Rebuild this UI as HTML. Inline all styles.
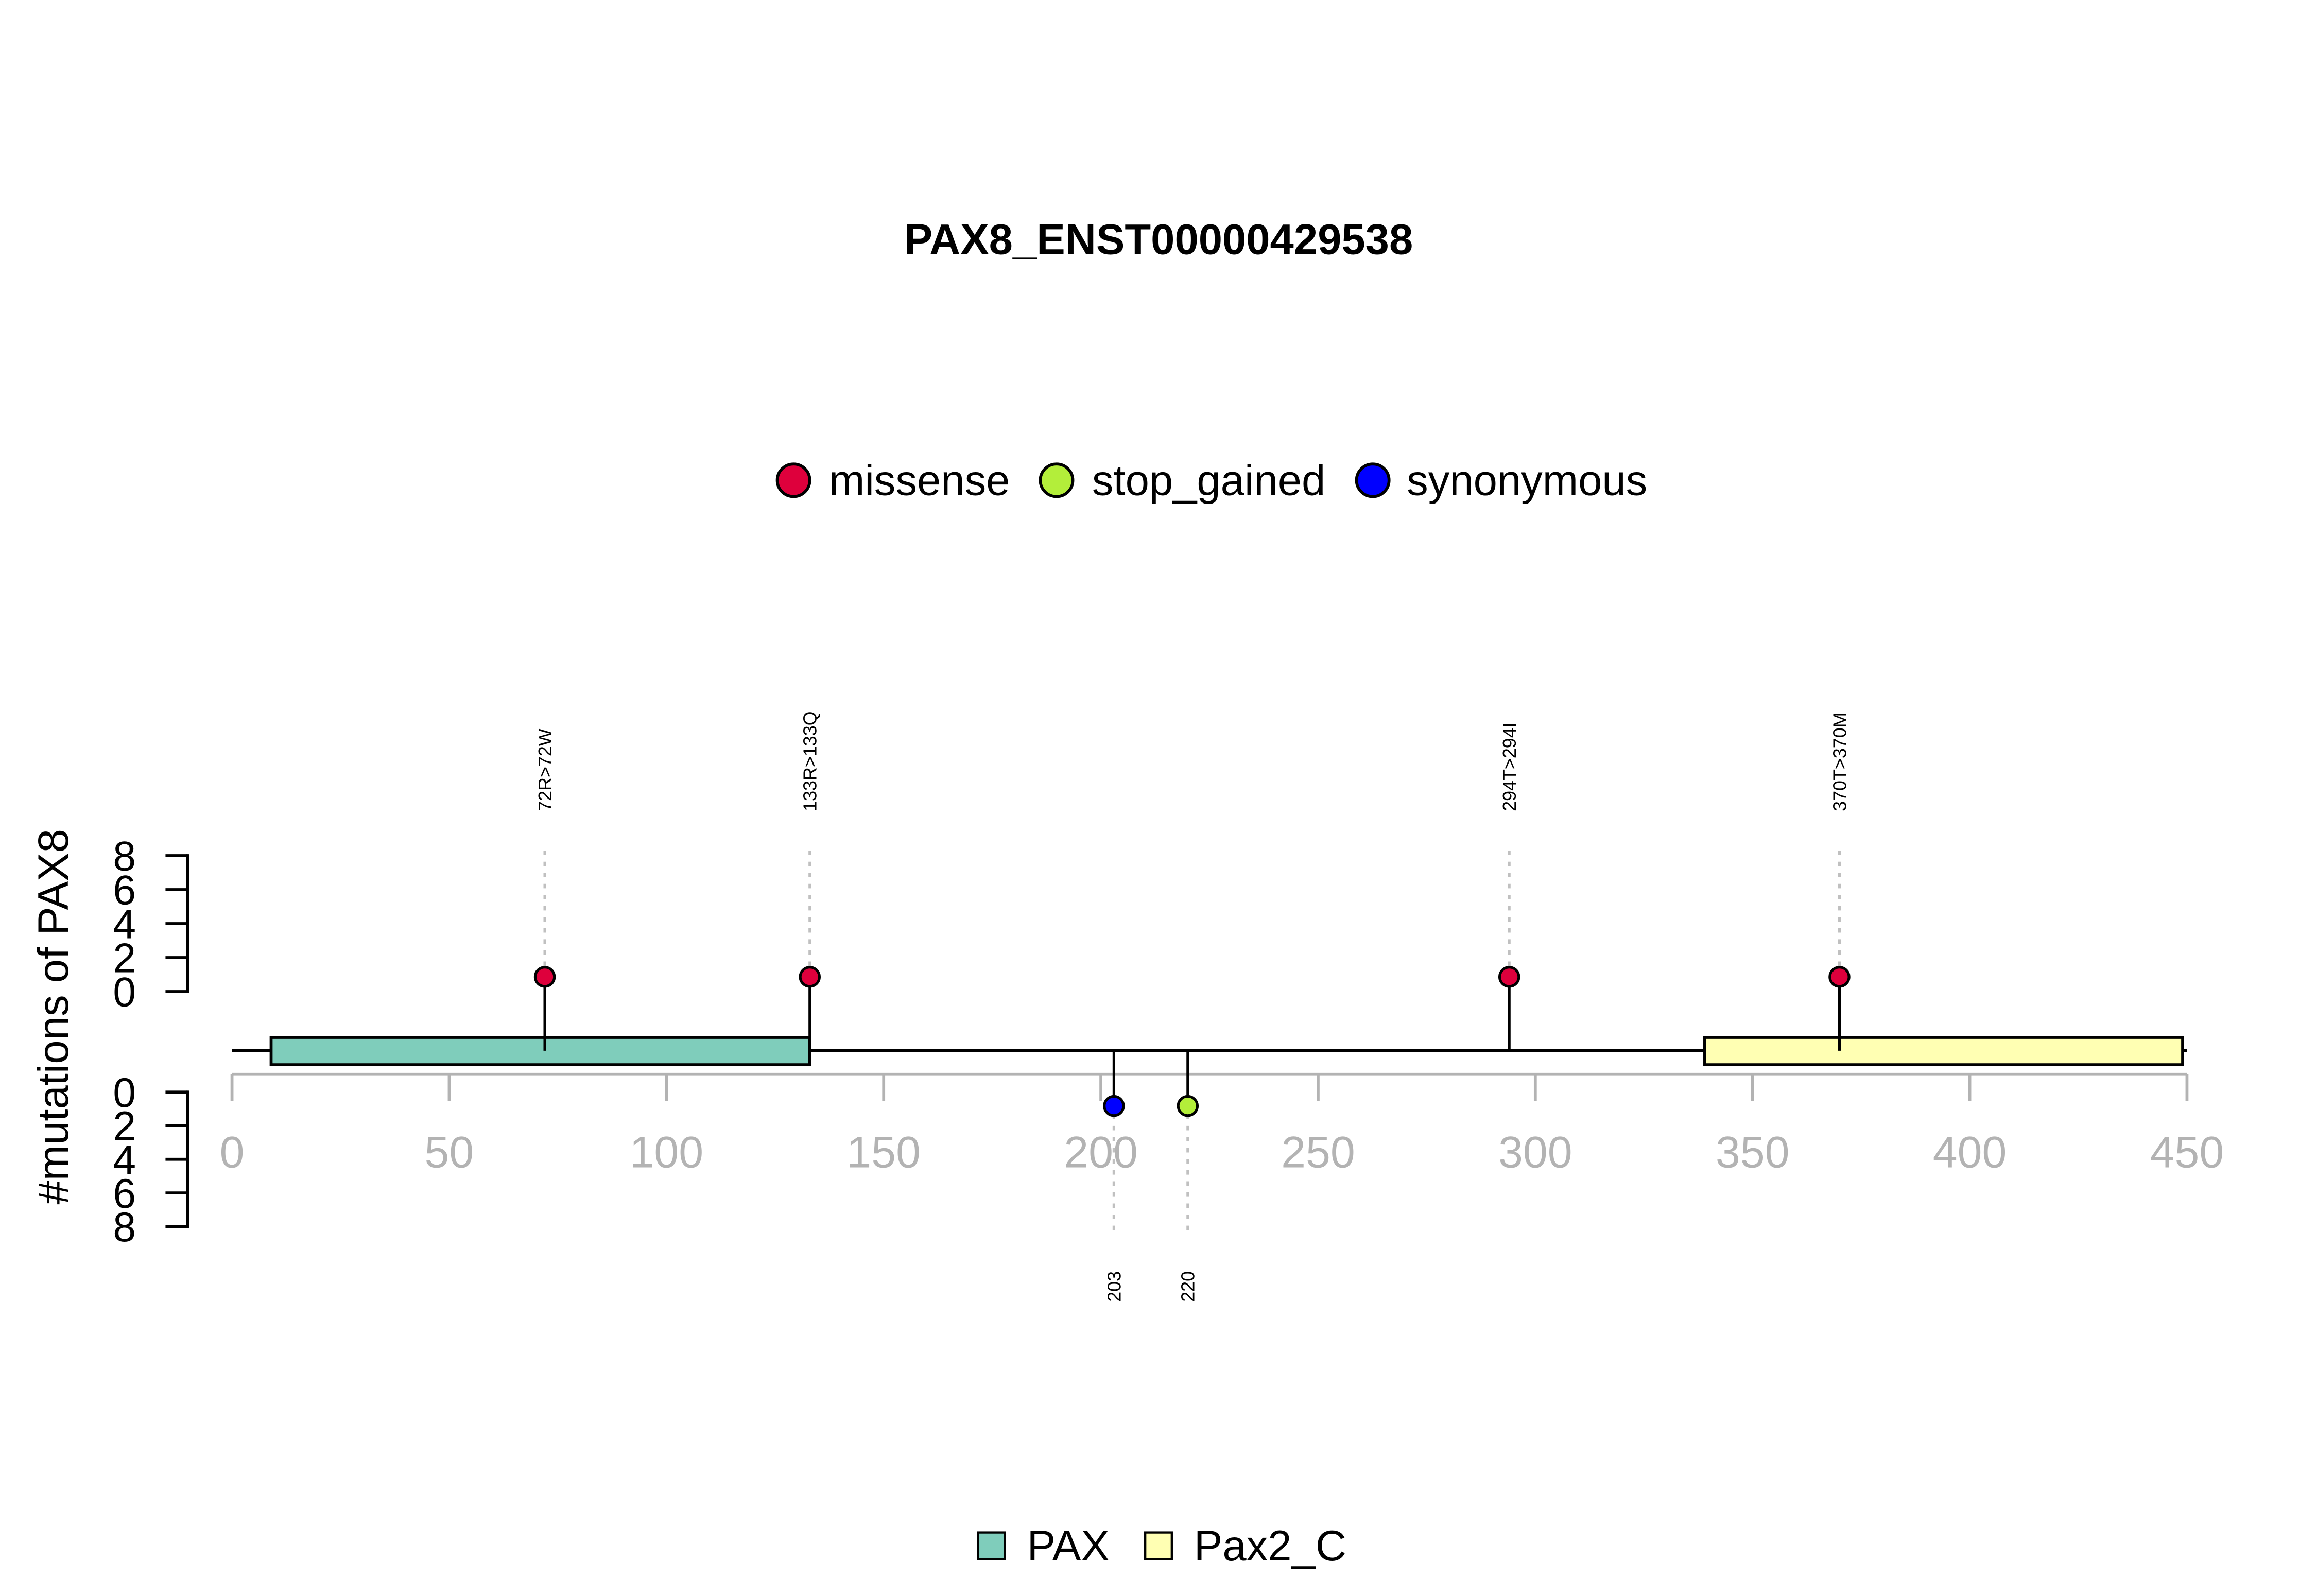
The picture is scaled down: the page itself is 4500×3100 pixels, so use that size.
<!DOCTYPE html>
<html><head><meta charset="utf-8"><style>
html,body{margin:0;padding:0;background:#fff;}
svg{display:block;font-family:"Liberation Sans",Arial,sans-serif;}
</style></head><body>
<svg id="chart" width="4500" height="3100" viewBox="0 0 1568 1080" preserveAspectRatio="none" xmlns="http://www.w3.org/2000/svg">
<rect width="1568" height="1080" fill="#fff"/>
<text x="784" y="172" text-anchor="middle" font-size="29" font-weight="bold">PAX8_ENST00000429538</text>
<g font-size="29">
  <circle cx="537" cy="325" r="11" fill="#DE003C" stroke="#000" stroke-width="2"/>
  <text x="561" y="335">missense</text>
  <circle cx="715" cy="325" r="11" fill="#B3EE3A" stroke="#000" stroke-width="2"/>
  <text x="739" y="335">stop_gained</text>
  <circle cx="929" cy="325" r="11" fill="#0000FF" stroke="#000" stroke-width="2"/>
  <text x="952" y="335">synonymous</text>
</g>
<text transform="translate(46,688) rotate(-90)" text-anchor="middle" font-size="29">#mutations of PAX8</text>
<g id="plot"></g>
<g font-size="29">
  <rect x="662" y="1037" width="18" height="18" fill="#7FCDBB" stroke="#000" stroke-width="1.5"/>
  <text x="695" y="1056">PAX</text>
  <rect x="775" y="1037" width="18" height="18" fill="#FFFFB3" stroke="#000" stroke-width="1.5"/>
  <text x="808" y="1056">Pax2_C</text>
</g>
</svg>
<script>
const xTicks = [0,50,100,150,200,250,300,350,400,450];
const yTicks = [0,2,4,6,8];
const upPositions = [72,133,294,370];
const upCounts = [1,1,1,1];
const upLabels = ["72R>72W","133R>133Q","294T>294I","370T>370M"];
const upColors = ["#DE003C","#DE003C","#DE003C","#DE003C"];
const downPositions = [203,220];
const downCounts = [1,1];
const downLabels = ["203","220"];
const downColors = ["#0000FF","#B3EE3A"];
const domainNames = ["PAX","Pax2_C"];
const domainStarts = [9,339];
const domainEnds = [133,449];
const domainColors = ["#7FCDBB","#FFFFB3"];
const proteinLength = 450;

const NS="http://www.w3.org/2000/svg";
const g=document.getElementById('plot');
const X=v=>157+v*(1480-157)/450;
const YU=v=>671-v*(671-579)/8;
const YD=v=>739+v*(830-739)/8;
function mk(t,a,p){const e=document.createElementNS(NS,t);for(const k in a)e.setAttribute(k,a[k]);(p||g).appendChild(e);return e;}

let e=mk('line',{x1:X(0),x2:X(450),y1:727,y2:727,stroke:'#b3b3b3','stroke-width':2});


xTicks.forEach(t=>{
  let l=mk('line',{x1:X(t),x2:X(t),y1:727,y2:745,stroke:'#b3b3b3','stroke-width':2});
  
  
  let tx=mk('text',{x:X(t),y:790,'text-anchor':'middle','font-size':30,fill:'#b3b3b3'});
  tx.textContent=t;
  
  
});
[[YU,'upper'],[YD,'lower']].forEach(([Y,n])=>{
  let a=mk('line',{x1:127,x2:127,y1:Y(0),y2:Y(8),stroke:'#000','stroke-width':2,'stroke-linecap':'square'});
  
  
  yTicks.forEach(t=>{
    let l=mk('line',{x1:112,x2:127,y1:Y(t),y2:Y(t),stroke:'#000','stroke-width':2});
    
    
    let tx=mk('text',{x:92,y:Y(t)+10,'text-anchor':'end','font-size':28});
    tx.textContent=t;
    
    
  });
});
e=mk('line',{x1:X(0),x2:X(proteinLength),y1:711,y2:711,stroke:'#000','stroke-width':2});


domainNames.forEach((n,i)=>{
  let r=mk('rect',{x:X(domainStarts[i]),y:702,width:X(domainEnds[i])-X(domainStarts[i]),height:18.5,fill:domainColors[i],stroke:'#000','stroke-width':2});
  
  
});
upPositions.forEach((p,i)=>{
  const x=X(p), cy=YU(upCounts[i])+1.5;
  let d=mk('line',{x1:x,x2:x,y1:575.6,y2:cy-6,stroke:'#c0c0c0','stroke-width':1.8,'stroke-dasharray':'3,4.5'});
  
  
  let s=mk('line',{x1:x,x2:x,y1:711,y2:cy,stroke:'#000','stroke-width':1.8});
  
  
  let c=mk('circle',{cx:x,cy:cy,r:6.5,fill:upColors[i],stroke:'#000','stroke-width':1.8});
  
  
  let t=mk('text',{transform:`translate(${x+4.5},549) rotate(-90)`,'font-size':12.5});
  t.textContent=upLabels[i];
  
  
});
downPositions.forEach((p,i)=>{
  const x=X(p), cy=YD(downCounts[i])-2;
  let d=mk('line',{x1:x,x2:x,y1:cy+6,y2:836,stroke:'#c0c0c0','stroke-width':1.8,'stroke-dasharray':'3,4.5'});
  
  
  let s=mk('line',{x1:x,x2:x,y1:711,y2:cy,stroke:'#000','stroke-width':1.8});
  
  
  let c=mk('circle',{cx:x,cy:cy,r:6.5,fill:downColors[i],stroke:'#000','stroke-width':1.8});
  
  
  let t=mk('text',{transform:`translate(${x+4.5},881) rotate(-90)`,'font-size':12.5});
  t.textContent=downLabels[i];
  
  
});
</script>
</body></html>
